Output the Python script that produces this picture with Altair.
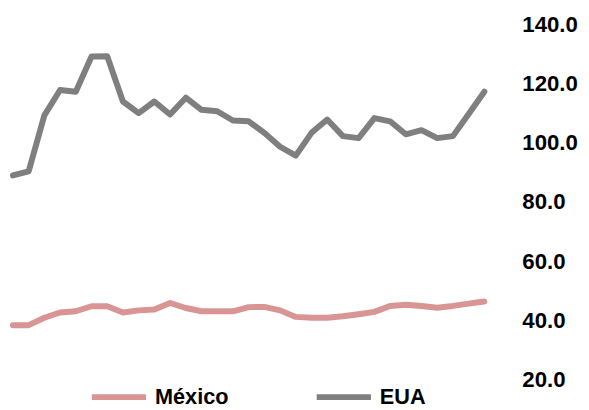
import altair as alt
import pandas as pd

# x positions (period index)
idx = list(range(31))

series = ["México", "EUA"]

mexico = [38.4, 38.4, 40.9, 42.7, 43.1, 44.8, 44.8, 42.7, 43.4, 43.7,
          45.9, 44.2, 43.1, 43.1, 43.1, 44.5, 44.6, 43.4, 41.2, 40.9,
          40.9, 41.4, 42.1, 42.9, 44.9, 45.3, 44.9, 44.3, 44.9, 45.7,
          46.4]

eua = [89.0, 90.4, 109.3, 117.9, 117.3, 129.2, 129.3, 114.0, 110.1, 114.0,
       109.6, 115.3, 111.2, 110.7, 107.6, 107.3, 103.4, 98.7, 95.7, 103.4,
       107.9, 102.3, 101.6, 108.4, 107.3, 102.9, 104.3, 101.6, 102.3, 109.8,
       117.3]

y_ticks = [20, 40, 60, 80, 100, 120, 140]

df = pd.DataFrame({
    "i": idx + idx,
    "v": mexico + eua,
    "s": [series[0]] * len(idx) + [series[1]] * len(idx),
})

FONT = "Liberation Sans"

chart = alt.Chart(df).mark_line(strokeWidth=6, strokeCap="round", strokeJoin="round").encode(
    x=alt.X("i:Q", scale=alt.Scale(domain=[0, 30], nice=False, zero=False), axis=None),
    y=alt.Y(
        "v:Q",
        scale=alt.Scale(domain=[20, 140], nice=False, zero=False),
        axis=alt.Axis(
            orient="right", values=y_ticks, format=".1f", grid=False, domain=False,
            ticks=False, labelPadding=38, labelFontSize=22.5, labelFont=FONT,
            labelFontWeight="bold", labelColor="#000000", title=None,
        ),
    ),
    color=alt.Color(
        "s:N",
        scale=alt.Scale(domain=series, range=["#D99594", "#7F7F7F"]),
        legend=alt.Legend(
            orient="none", legendX=77, legendY=347, direction="horizontal",
            title=None, symbolType="stroke", symbolSize=3025, symbolStrokeWidth=6,
            labelFontSize=22, labelFont=FONT, labelFontWeight="bold",
            labelColor="#000000", columnPadding=77, labelOffset=6,
        ),
    ),
).properties(
    width=478, height=360,
    padding={"left": 5, "top": 14, "right": 98, "bottom": 28},
    autosize="none",
).configure_view(stroke=None)

chart.save("out.html", embed_options={"renderer": "svg", "actions": False})
